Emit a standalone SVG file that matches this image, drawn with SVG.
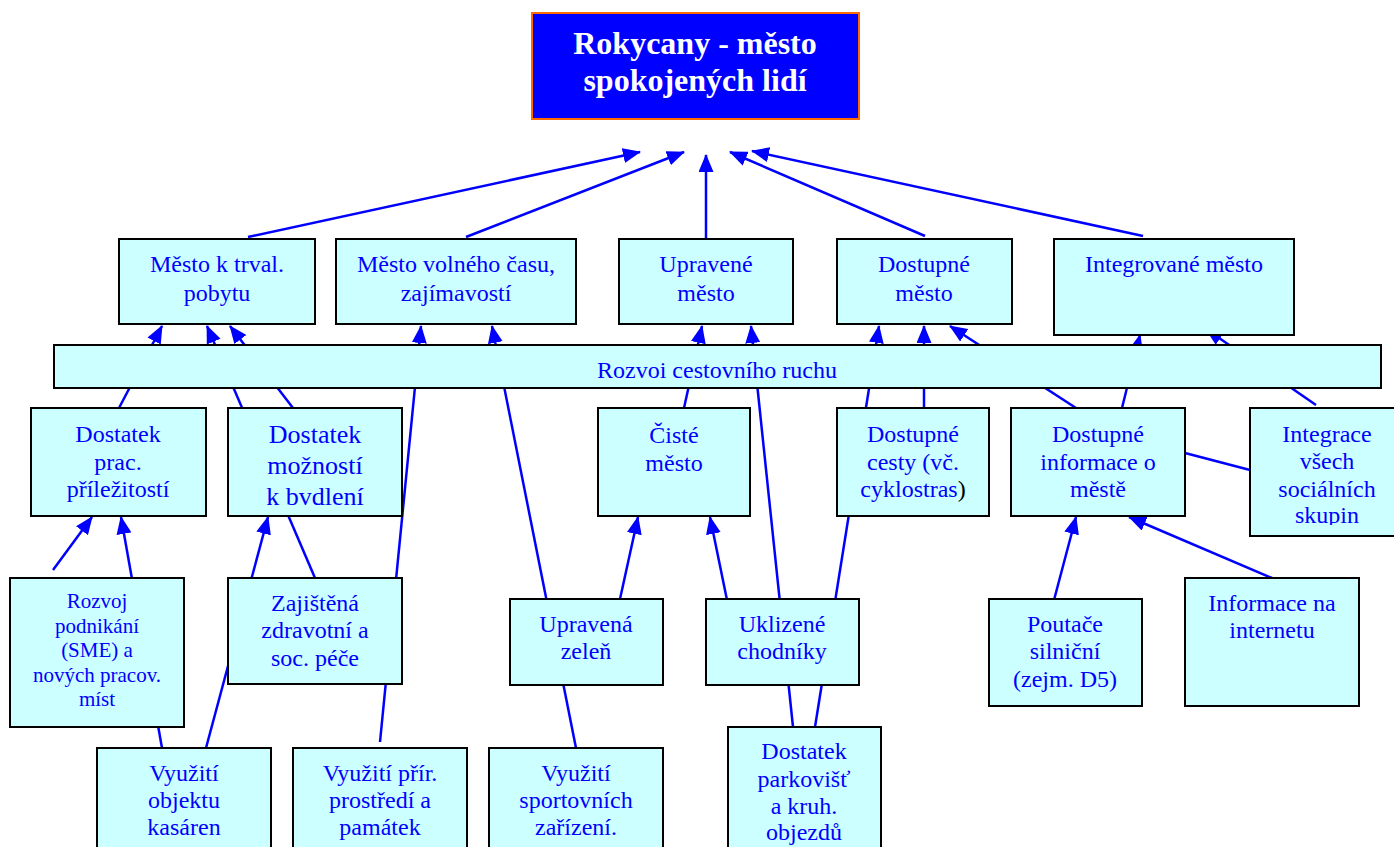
<svg xmlns="http://www.w3.org/2000/svg" width="1394" height="847" viewBox="0 0 1394 847">
<style>
.box{fill:#ccffff;stroke:#000;stroke-width:2}
.t{font-family:"Liberation Serif","Times New Roman",serif;fill:#0000ff;text-anchor:middle;font-size:24px}
.s21{font-size:21px}
.s26{font-size:26px}
.title{font-family:"Liberation Serif","Times New Roman",serif;fill:#fff;font-weight:bold;font-size:32px;text-anchor:middle}
.c{stroke:#0000ff;stroke-width:2.5;fill:none}
.a{marker-end:url(#ah)}
</style>
<defs>
<marker id="ah" markerUnits="userSpaceOnUse" markerWidth="18" markerHeight="15" viewBox="0 0 18 15" refX="17" refY="7.5" orient="auto">
<path d="M0,0 L18,7.5 L0,15 z" fill="#0000ff"/>
</marker>
<clipPath id="clipSkupin"><rect x="1250" y="400" width="160" height="125"/></clipPath>
</defs>
<rect width="1394" height="847" fill="#fff"/>

<g id="connectors">
<line class="c a" x1="248" y1="237" x2="640" y2="152"/>
<line class="c a" x1="466" y1="237" x2="684" y2="152"/>
<line class="c a" x1="706" y1="239" x2="706" y2="155"/>
<line class="c a" x1="925" y1="236" x2="730" y2="152"/>
<line class="c a" x1="1143" y1="236" x2="752" y2="151"/>
<line class="c a" x1="119" y1="408" x2="162" y2="326"/>
<line class="c a" x1="315" y1="578" x2="207" y2="326"/>
<line class="c a" x1="293" y1="408" x2="230" y2="326"/>
<line class="c a" x1="380" y1="742" x2="421" y2="326"/>
<line class="c a" x1="576" y1="748" x2="492" y2="326"/>
<line class="c a" x1="684" y1="408" x2="702" y2="326"/>
<line class="c a" x1="793" y1="727" x2="751" y2="326"/>
<line class="c a" x1="815" y1="727" x2="879" y2="326"/>
<line class="c a" x1="924" y1="408" x2="924" y2="326"/>
<line class="c a" x1="1076" y1="408" x2="950" y2="326"/>
<line class="c a" x1="1122" y1="408" x2="1140" y2="335"/>
<line class="c a" x1="1316" y1="405" x2="1206" y2="329"/>
<line class="c" x1="1185" y1="453" x2="1250" y2="470"/>
<line class="c a" x1="53" y1="570" x2="92" y2="517"/>
<line class="c a" x1="162" y1="748" x2="121" y2="517"/>
<line class="c a" x1="206" y1="748" x2="268" y2="517"/>
<line class="c a" x1="620" y1="599" x2="638" y2="517"/>
<line class="c a" x1="727" y1="600" x2="710" y2="517"/>
<line class="c a" x1="1054" y1="600" x2="1076" y2="517"/>
<line class="c a" x1="1272" y1="578" x2="1129" y2="517"/>
</g>

<g id="n-title">
<rect x="532" y="13" width="327" height="106" fill="#0000ff" stroke="#ff6a00" stroke-width="2"/>
<text class="title" x="695" y="54">Rokycany - město</text>
<text class="title" x="695" y="91">spokojených lidí</text>
</g>

<g id="n-trval">
<rect class="box" x="119" y="239" width="196" height="85"/>
<text class="t" x="217" y="272">Město k trval.</text>
<text class="t" x="217" y="301">pobytu</text>
</g>
<g id="n-volny">
<rect class="box" x="336" y="239" width="240" height="85"/>
<text class="t" x="456" y="272">Město volného času,</text>
<text class="t" x="456" y="301">zajímavostí</text>
</g>
<g id="n-upravene">
<rect class="box" x="619" y="239" width="174" height="85"/>
<text class="t" x="706" y="272">Upravené</text>
<text class="t" x="706" y="301">město</text>
</g>
<g id="n-dostupne">
<rect class="box" x="837" y="239" width="175" height="85"/>
<text class="t" x="924" y="272">Dostupné</text>
<text class="t" x="924" y="301">město</text>
</g>
<g id="n-integrovane">
<rect class="box" x="1054" y="239" width="240" height="96"/>
<text class="t" x="1174" y="272">Integrované město</text>
</g>

<g id="n-rozvoj-cr">
<rect class="box" x="54" y="345" width="1327" height="43"/>
<text class="t" x="717" y="378">Rozvoi cestovního ruchu</text>
</g>

<g id="n-prac">
<rect class="box" x="31" y="408" width="175" height="108"/>
<text class="t" x="118" y="442">Dostatek</text>
<text class="t" x="118" y="470">prac.</text>
<text class="t" x="118" y="497">příležitostí</text>
</g>
<g id="n-bydleni">
<rect class="box" x="228" y="408" width="174" height="108"/>
<text class="t s26" x="315" y="443">Dostatek</text>
<text class="t s26" x="315" y="474">možností</text>
<text class="t s26" x="315" y="505">k bvdlení</text>
</g>
<g id="n-ciste">
<rect class="box" x="598" y="408" width="152" height="108"/>
<text class="t" x="674" y="443">Čisté</text>
<text class="t" x="674" y="471">město</text>
</g>
<g id="n-cesty">
<rect class="box" x="837" y="408" width="152" height="108"/>
<text class="t" x="913" y="442">Dostupné</text>
<text class="t" x="913" y="470">cesty (vč.</text>
<text class="t" x="913" y="497">cyklostras<tspan fill="#000">)</tspan></text>
</g>
<g id="n-informace">
<rect class="box" x="1011" y="408" width="174" height="108"/>
<text class="t" x="1098" y="442">Dostupné</text>
<text class="t" x="1098" y="470">informace o</text>
<text class="t" x="1098" y="497">městě</text>
</g>
<g id="n-integrace">
<rect class="box" x="1250" y="408" width="156" height="128"/>
<g clip-path="url(#clipSkupin)">
<text class="t" x="1327" y="442">Integrace</text>
<text class="t" x="1327" y="469">všech</text>
<text class="t" x="1327" y="497">sociálních</text>
<text class="t" x="1327" y="523">skupin</text>
</g>
</g>

<g id="n-podnikani">
<rect class="box" x="10" y="578" width="174" height="149"/>
<text class="t s21" x="97" y="608">Rozvoj</text>
<text class="t s21" x="97" y="633">podnikání</text>
<text class="t s21" x="97" y="657">(SME) a</text>
<text class="t s21" x="97" y="682">nových pracov.</text>
<text class="t s21" x="97" y="706">míst</text>
</g>
<g id="n-zdravotni">
<rect class="box" x="228" y="578" width="174" height="106"/>
<text class="t" x="315" y="611">Zajištěná</text>
<text class="t" x="315" y="638">zdravotní a</text>
<text class="t" x="315" y="666">soc. péče</text>
</g>
<g id="n-zelen">
<rect class="box" x="510" y="599" width="153" height="86"/>
<text class="t" x="586" y="632">Upravená</text>
<text class="t" x="586" y="659">zeleň</text>
</g>
<g id="n-chodniky">
<rect class="box" x="706" y="599" width="153" height="86"/>
<text class="t" x="782" y="632">Uklizené</text>
<text class="t" x="782" y="659">chodníky</text>
</g>
<g id="n-poutace">
<rect class="box" x="989" y="599" width="153" height="107"/>
<text class="t" x="1065" y="632">Poutače</text>
<text class="t" x="1065" y="659">silniční</text>
<text class="t" x="1065" y="687">(zejm. D5)</text>
</g>
<g id="n-internet">
<rect class="box" x="1185" y="578" width="174" height="128"/>
<text class="t" x="1272" y="611">Informace na</text>
<text class="t" x="1272" y="638">internetu</text>
</g>

<g id="n-kasarny">
<rect class="box" x="97" y="748" width="174" height="112"/>
<text class="t" x="184" y="781">Využití</text>
<text class="t" x="184" y="808">objektu</text>
<text class="t" x="184" y="835">kasáren</text>
</g>
<g id="n-pamatky">
<rect class="box" x="293" y="748" width="174" height="112"/>
<text class="t" x="380" y="781">Využití přír.</text>
<text class="t" x="380" y="808">prostředí a</text>
<text class="t" x="380" y="835">památek</text>
</g>
<g id="n-sport">
<rect class="box" x="489" y="748" width="174" height="112"/>
<text class="t" x="576" y="781">Využití</text>
<text class="t" x="576" y="808">sportovních</text>
<text class="t" x="576" y="835">zařízení.</text>
</g>
<g id="n-parkoviste">
<rect class="box" x="728" y="727" width="153" height="133"/>
<text class="t" x="804" y="759">Dostatek</text>
<text class="t" x="804" y="787">parkovišť</text>
<text class="t" x="804" y="814">a kruh.</text>
<text class="t" x="804" y="840">objezdů</text>
</g>
</svg>
